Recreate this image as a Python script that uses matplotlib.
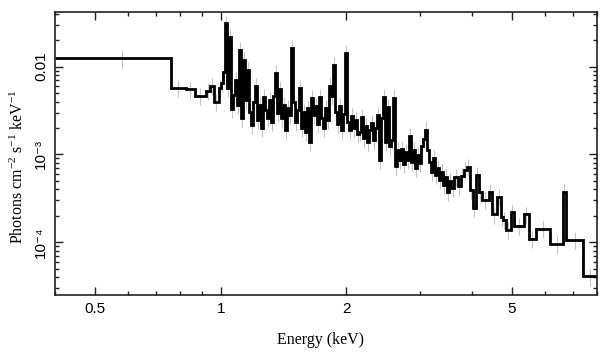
import matplotlib
matplotlib.use("Agg")
import matplotlib.pyplot as plt
from matplotlib.ticker import FixedLocator, FixedFormatter, LogLocator, NullFormatter
import numpy as np

# bin edges (keV)
energy_edges = [
    0.400, 0.758, 0.824, 0.866, 0.920, 0.941, 0.962, 0.989, 1.000,
    1.0112, 1.0224, 1.0338, 1.0454, 1.0570, 1.0688, 1.0807, 1.0928, 1.1050, 1.1173,
    1.1297, 1.1423, 1.1551, 1.1680, 1.1810, 1.1942, 1.2075, 1.2209, 1.2346, 1.2483,
    1.2623, 1.2763, 1.2906, 1.3050, 1.3195, 1.3342, 1.3491, 1.3642, 1.3794, 1.3948,
    1.4103, 1.4260, 1.4419, 1.4580, 1.4743, 1.4907, 1.5073, 1.5241, 1.5411, 1.5583,
    1.5757, 1.5932, 1.6110, 1.6290, 1.6471, 1.6655, 1.6841, 1.7029, 1.7218, 1.7410,
    1.7604, 1.7801, 1.7999, 1.8200, 1.8403, 1.8608, 1.8816, 1.9025, 1.9237, 1.9452,
    1.9669, 1.9888, 2.0110, 2.0334, 2.0561, 2.0790, 2.1022, 2.1256, 2.1493, 2.1733,
    2.1975, 2.2220, 2.2468, 2.2718, 2.2972, 2.3228, 2.3487, 2.3749, 2.4013, 2.4281,
    2.4552, 2.4825, 2.5102, 2.5382, 2.5665, 2.5951, 2.6240, 2.6533, 2.6829, 2.7128,
    2.7430, 2.7736, 2.8045, 2.8358, 2.8674, 2.8994, 2.9317, 2.9644, 2.9974, 3.0308,
    3.0646, 3.0988, 3.1333, 3.1683, 3.2036, 3.2393, 3.2754, 3.3119, 3.3489, 3.3862,
    3.4240, 3.4621, 3.5007, 3.5397, 3.5792,
    3.6393, 3.7004, 3.7625, 3.8256, 3.8897, 3.9550, 4.0213, 4.0888, 4.1574, 4.2271,
    4.3945, 4.4683, 4.5940, 4.6971, 4.7495, 4.8292, 4.9651, 5.0484, 5.3378, 5.4879,
    5.7050, 6.1660, 6.6283, 6.7395, 7.4062, 8.000,
]

# unfolded flux per bin, in 1e-3 photons cm^-2 s^-1 keV^-1
flux_e3 = [
    12.46, 5.77, 5.53, 4.68, 5.30, 6.04, 4.00, 5.68,
    6.53, 8.71, 31.4, 5.73, 21.8, 3.31, 4.77, 7.06, 3.67, 15.5,
    2.61, 11.9, 4.18, 9.17, 3.06, 2.18, 3.97, 6.04, 2.48, 3.67,
    2.01, 4.52, 3.22, 2.61, 4.18, 2.35, 4.65, 8.48, 2.98, 5.58,
    2.61, 3.67, 1.91, 3.39, 2.83, 16.3, 3.97, 2.35, 3.22, 5.73,
    2.01, 3.06, 1.81, 3.39, 1.39, 4.41, 2.83, 3.58, 2.23, 4.52,
    2.61, 2.01, 3.39, 2.48, 6.04, 4.65, 10.45, 3.06, 2.23, 3.58,
    1.91, 2.90, 14.3, 2.35, 1.91, 2.75, 2.01, 2.48, 1.72, 1.81,
    2.68, 1.55, 2.12, 1.39, 1.91, 2.29, 1.47, 2.01, 2.83, 0.871,
    2.61, 4.52, 1.39, 3.48, 1.26, 1.47, 4.41, 0.744, 1.13, 0.871,
    1.16, 0.784, 1.07, 0.871, 1.63, 0.826, 1.13, 0.706, 0.992, 0.805,
    1.26, 1.51, 1.91, 1.13, 0.826, 0.636, 0.917, 0.588, 0.706, 0.516,
    0.636, 0.453, 0.558, 0.377, 0.502,
    0.418, 0.558, 0.441, 0.573, 0.670, 0.725, 0.397, 0.248, 0.588, 0.377,
    0.306, 0.377, 0.207, 0.331, 0.196, 0.181, 0.139, 0.218, 0.153, 0.207,
    0.109, 0.143, 0.096, 0.374, 0.107, 0.041,
]

rel_err = 0.22  # typical fractional 1-sigma error

x_major = [0.5, 1, 2, 5]
x_major_labels = ["0.5", "1", "2", "5"]
x_minor = [0.4, 0.6, 0.7, 0.8, 0.9, 3, 4, 6, 7, 8]
y_major = [1e-4, 1e-3, 1e-2]
y_major_labels = ["10\u207b\u2074", "10\u207b\u00b3", "0.01"]

edges = np.array(energy_edges)
flux = np.array(flux_e3) * 1e-3
centers = 0.5 * (edges[:-1] + edges[1:])

plt.rcParams["mathtext.fontset"] = "custom"
plt.rcParams["mathtext.rm"] = "Liberation Serif"
plt.rcParams["mathtext.it"] = "Liberation Serif:italic"

sans = ["Liberation Sans", "DejaVu Sans"]
serif = ["Liberation Serif", "DejaVu Serif"]

fig = plt.figure(figsize=(6.09, 3.57), dpi=100)
ax = fig.add_axes([55 / 609, 62 / 357, 542 / 609, 283 / 357])

ax.errorbar(centers, flux, yerr=flux * rel_err, fmt="none",
            ecolor="#c4c4c4", elinewidth=0.8, zorder=1)
ax.stairs(flux, edges, baseline=None, color="black", lw=2.0, zorder=2)

ax.set_xscale("log")
ax.set_yscale("log")
ax.set_xlim(0.4, 8.0)
ax.set_ylim(2.5e-5, 0.042)

ax.xaxis.set_major_locator(FixedLocator(x_major))
ax.xaxis.set_major_formatter(FixedFormatter(x_major_labels))
ax.xaxis.set_minor_locator(FixedLocator(x_minor))
ax.xaxis.set_minor_formatter(NullFormatter())
ax.yaxis.set_major_locator(FixedLocator(y_major))
ax.yaxis.set_major_formatter(FixedFormatter(y_major_labels))
ax.yaxis.set_minor_locator(LogLocator(base=10, subs=np.arange(2, 10)))
ax.yaxis.set_minor_formatter(NullFormatter())

ax.tick_params(which="both", direction="in", top=True, right=True,
               color="#222222", width=1.0)
ax.tick_params(which="major", length=5.5)
ax.tick_params(which="minor", length=3.0)
ax.tick_params(axis="x", which="major", pad=5, labelsize=11)
ax.tick_params(axis="y", which="major", pad=5, labelsize=11)

for lbl in ax.get_xticklabels():
    lbl.set_family(sans)
for lbl in ax.get_yticklabels():
    lbl.set_family(sans)
    lbl.set_rotation(90)
    lbl.set_va("center")

for sp in ax.spines.values():
    sp.set_linewidth(1.2)
    sp.set_color("#222222")

ax.set_xlabel("Energy (keV)", family=serif, fontsize=11.5)
ax.set_ylabel(r"Photons cm$^{-2}$ s$^{-1}$ keV$^{-1}$",
              family=serif, fontsize=11.5)
ax.xaxis.set_label_coords(0.489, -0.131)
ax.yaxis.set_label_coords(-0.052, 0.454)

fig.savefig("out.png", dpi=100)
